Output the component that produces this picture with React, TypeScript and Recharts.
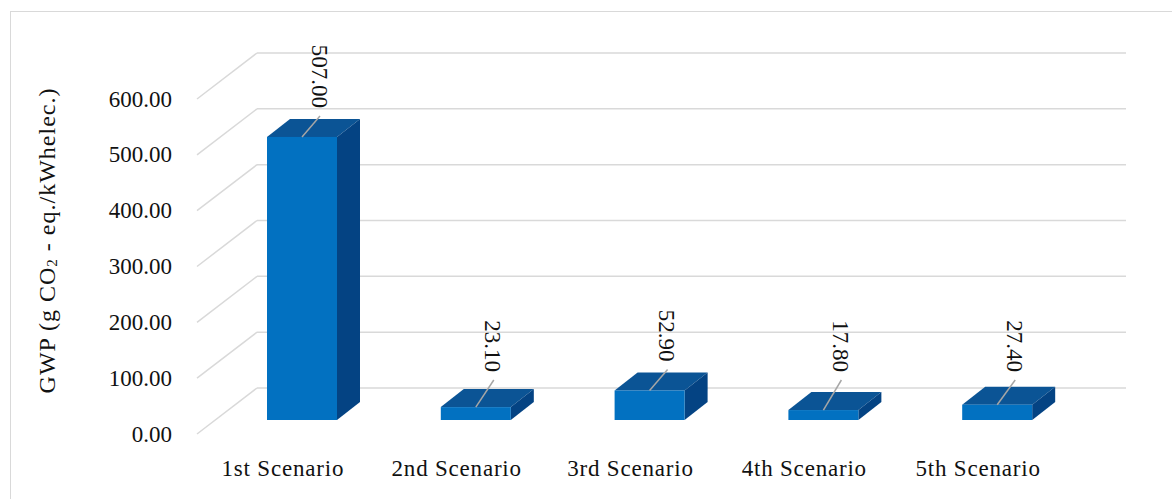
import { BarChart, Bar, XAxis, YAxis, CartesianGrid, LabelList } from 'recharts';

const scenarios = ['1st Scenario', '2nd Scenario', '3rd Scenario', '4th Scenario', '5th Scenario'];
const gwpValues = [507.0, 23.1, 52.9, 17.8, 27.4];
const yTicks = [0, 100, 200, 300, 400, 500, 600];

const data = scenarios.map((name, i) => ({ name, gwp: gwpValues[i] }));

const FONT = "'Liberation Serif', 'Times New Roman', serif";
const TEXT = '#111111';
const GRID = '#d9d9d9';
const FRONT = '#0271c1';
const TOP = '#0b5495';
const SIDE = '#044383';

// fake perspective: bar depth, and distance from the bar plane to the back wall / floor edge
const DEPTH_X = 23;
const DEPTH_Y = 18;
const WALL_X = 42;
const WALL_Y = 32;
const FLOOR_X = 18;
const FLOOR_Y = 14;

const GridLine = (props: any) => {
  const { x1, x2, y1 } = props;
  return (
    <g>
      <line
        x1={x1 - FLOOR_X}
        y1={y1 + FLOOR_Y}
        x2={x1 + WALL_X}
        y2={y1 - WALL_Y}
        stroke={GRID}
        strokeWidth={1.5}
      />
      <line
        x1={x1 + WALL_X}
        y1={y1 - WALL_Y}
        x2={x2 + WALL_X}
        y2={y1 - WALL_Y}
        stroke={GRID}
        strokeWidth={1.5}
      />
    </g>
  );
};

const Box3D = (props: any) => {
  const { x, y, width, height } = props;
  const r = x + width;
  const b = y + height;
  return (
    <g>
      <polygon
        points={`${x},${y} ${x + DEPTH_X},${y - DEPTH_Y} ${r + DEPTH_X},${y - DEPTH_Y} ${r},${y}`}
        fill={TOP}
      />
      <polygon
        points={`${r},${y} ${r + DEPTH_X},${y - DEPTH_Y} ${r + DEPTH_X},${b - DEPTH_Y} ${r},${b}`}
        fill={SIDE}
      />
      <rect x={x} y={y} width={width} height={height} fill={FRONT} />
    </g>
  );
};

const ValueLabel = (props: any) => {
  const { x, y, width, value } = props;
  const cx = x + width / 2;
  const tx = cx + 17;
  const textEnd = Math.min(y - 29, 372);
  return (
    <g>
      <line x1={cx} y1={y} x2={tx + 1} y2={textEnd + 8} stroke="#a6a6a6" strokeWidth={1.5} />
      <text
        x={tx}
        y={textEnd}
        transform={`rotate(90 ${tx} ${textEnd})`}
        textAnchor="end"
        dominantBaseline="central"
        fontFamily={FONT}
        fontSize={23}
        fill={TEXT}
      >
        {Number(value).toFixed(2)}
      </text>
    </g>
  );
};

const ValueTick = ({ x, y, payload }: any) => (
  <text
    x={x - 43}
    y={y + FLOOR_Y}
    textAnchor="end"
    dominantBaseline="central"
    fontFamily={FONT}
    fontSize={23}
    fill={TEXT}
  >
    {Number(payload.value).toFixed(2)}
  </text>
);

const CategoryTick = ({ x, y, payload }: any) => (
  <text
    x={x - 19}
    y={y + 48}
    textAnchor="middle"
    dominantBaseline="central"
    fontFamily={FONT}
    fontSize={23}
    letterSpacing={0.8}
    fill={TEXT}
  >
    {payload.value}
  </text>
);

const AxisTitle = ({ viewBox }: any) => {
  const x = viewBox.x - 68;
  const y = viewBox.y + viewBox.height / 2 - 12;
  return (
    <text
      x={x}
      y={y}
      transform={`rotate(-90 ${x} ${y})`}
      textAnchor="middle"
      dominantBaseline="central"
      fontFamily={FONT}
      fontSize={24}
      letterSpacing={1}
      fill={TEXT}
    >
      GWP (g CO
      <tspan dy={5} fontSize={15}>
        2
      </tspan>
      <tspan dy={-5}> - eq./kWhelec.)</tspan>
    </text>
  );
};

export default function App() {
  return (
    <div style={{ position: 'fixed', left: 0, top: 0, width: 1172, height: 499, overflow: 'hidden', background: '#fff' }}>
      <div
        style={{
          position: 'absolute',
          left: 10,
          top: 11,
          width: 1300,
          height: 700,
          border: `1.5px solid ${GRID}`,
        }}
      />
      <div style={{ position: 'absolute', left: 0, top: 0 }}>
        <BarChart
          width={1172}
          height={499}
          data={data}
          margin={{ top: 85, right: 88, bottom: 49, left: 115 }}
        >
          <CartesianGrid vertical={false} horizontal={GridLine} />
          <XAxis
            dataKey="name"
            height={30}
            axisLine={false}
            tickLine={false}
            tickSize={0}
            tickMargin={0}
            tick={<CategoryTick />}
            interval={0}
          />
          <YAxis
            width={100}
            domain={[0, 600]}
            ticks={yTicks}
            axisLine={false}
            tickLine={false}
            tickSize={0}
            tickMargin={0}
            tick={<ValueTick />}
            label={<AxisTitle />}
          />
          <Bar dataKey="gwp" barSize={70} shape={<Box3D />} isAnimationActive={false}>
            <LabelList dataKey="gwp" content={<ValueLabel />} />
          </Bar>
        </BarChart>
      </div>
    </div>
  );
}
